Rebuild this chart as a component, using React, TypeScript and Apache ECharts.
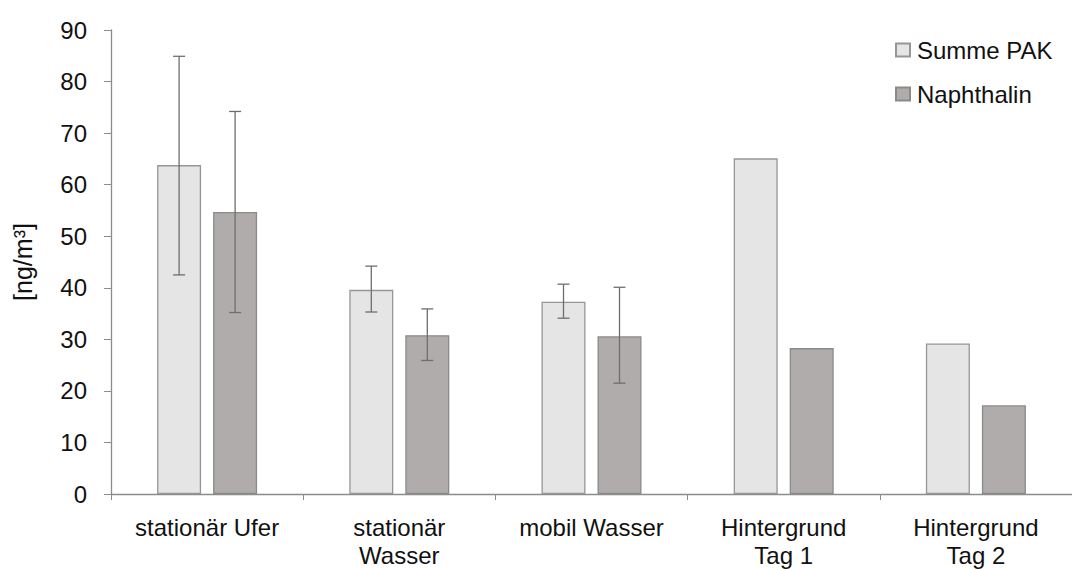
import React, { useEffect, useRef } from "react";
import * as echarts from "echarts";

const categories = ["stationär Ufer", "stationär\nWasser", "mobil Wasser", "Hintergrund\nTag 1", "Hintergrund\nTag 2"];
const summePAK = [63.8, 39.6, 37.3, 65.1, 29.2];
const naphthalin = [54.7, 30.8, 30.6, 28.3, 17.2];
const summeLow = [42.5, 35.3, 34.1, null, null];
const summeHigh = [84.9, 44.2, 40.7, null, null];
const naphLow = [35.2, 25.9, 21.5, null, null];
const naphHigh = [74.2, 35.9, 40.1, null, null];
const yTicks = { min: 0, max: 90, interval: 10 };

const FONT = "'Liberation Sans', Arial, sans-serif";
const BAR_W = 44;
const BAR_GAP = 12;

function errData(low: (number | null)[], high: (number | null)[]) {
  const out: any[] = [];
  low.forEach((l, i) => {
    if (l != null && high[i] != null) out.push([i, l, high[i]]);
  });
  return out;
}

function errorSeries(name: string, low: (number | null)[], high: (number | null)[], dir: number) {
  return {
    type: "custom",
    name,
    data: errData(low, high),
    encode: { x: 0, y: [1, 2] },
    z: 10,
    silent: true,
    renderItem: (params: any, api: any) => {
      const idx = api.value(0);
      const lo = api.coord([idx, api.value(1)]);
      const hi = api.coord([idx, api.value(2)]);
      const x = lo[0] + dir * (BAR_W + BAR_GAP) / 2;
      const cap = 6;
      const style = { stroke: "#6e6e6e", lineWidth: 1.3 };
      return {
        type: "group",
        children: [
          { type: "line", shape: { x1: x, y1: hi[1], x2: x, y2: lo[1] }, style },
          { type: "line", shape: { x1: x - cap, y1: hi[1], x2: x + cap, y2: hi[1] }, style },
          { type: "line", shape: { x1: x - cap, y1: lo[1], x2: x + cap, y2: lo[1] }, style },
        ],
      };
    },
  };
}

export default function App() {
  const ref = useRef<HTMLDivElement>(null);
  useEffect(() => {
    if (!ref.current) return;
    const chart = echarts.init(ref.current, undefined, { renderer: "svg" });
    chart.setOption({
      animation: false,
      backgroundColor: "#ffffff",
      textStyle: { fontFamily: FONT },
      legend: {
        orient: "vertical",
        left: 895,
        top: 38,
        padding: 0,
        itemWidth: 14,
        itemHeight: 13,
        itemGap: 20,
        icon: "rect",
        data: ["Summe PAK", "Naphthalin"],
        textStyle: { fontSize: 24, color: "#111", fontFamily: FONT, padding: [0, 0, 0, 2] },
      },
      grid: { left: 111, top: 30, height: 464, width: 972 },
      xAxis: {
        type: "category",
        data: categories,
        axisLine: { lineStyle: { color: "#8c8c8c", width: 1.3 } },
        axisTick: { show: true, length: 6, lineStyle: { color: "#8c8c8c" } },
        axisLabel: { fontSize: 24, color: "#111", fontFamily: FONT, margin: 19, lineHeight: 28 },
      },
      yAxis: {
        type: "value",
        min: yTicks.min,
        max: yTicks.max,
        interval: yTicks.interval,
        name: "[ng/m³]",
        nameLocation: "middle",
        nameGap: 76,
        nameTextStyle: { fontSize: 25, color: "#111", fontFamily: FONT },
        splitLine: { show: false },
        axisLine: { show: true, lineStyle: { color: "#8c8c8c", width: 1.3 } },
        axisTick: { show: true, length: 7, lineStyle: { color: "#8c8c8c" } },
        axisLabel: { fontSize: 24, color: "#111", fontFamily: FONT, margin: 24 },
      },
      series: [
        {
          name: "Summe PAK",
          type: "bar",
          data: summePAK,
          barWidth: BAR_W,
          barGap: ((BAR_GAP / BAR_W) * 100).toFixed(1) + "%",
          itemStyle: { color: "#e5e5e5", borderColor: "#969696", borderWidth: 1.3 },
        },
        {
          name: "Naphthalin",
          type: "bar",
          data: naphthalin,
          barWidth: BAR_W,
          itemStyle: { color: "#b0acab", borderColor: "#8a8a8a", borderWidth: 1.3 },
        },
        errorSeries("errSumme", summeLow, summeHigh, -1),
        errorSeries("errNaph", naphLow, naphHigh, 1),
      ],
    });
    return () => chart.dispose();
  }, []);
  return (
    <div
      ref={ref}
      style={{ position: "fixed", left: 0, top: 0, width: 1072, height: 569, overflow: "hidden" }}
    />
  );
}
